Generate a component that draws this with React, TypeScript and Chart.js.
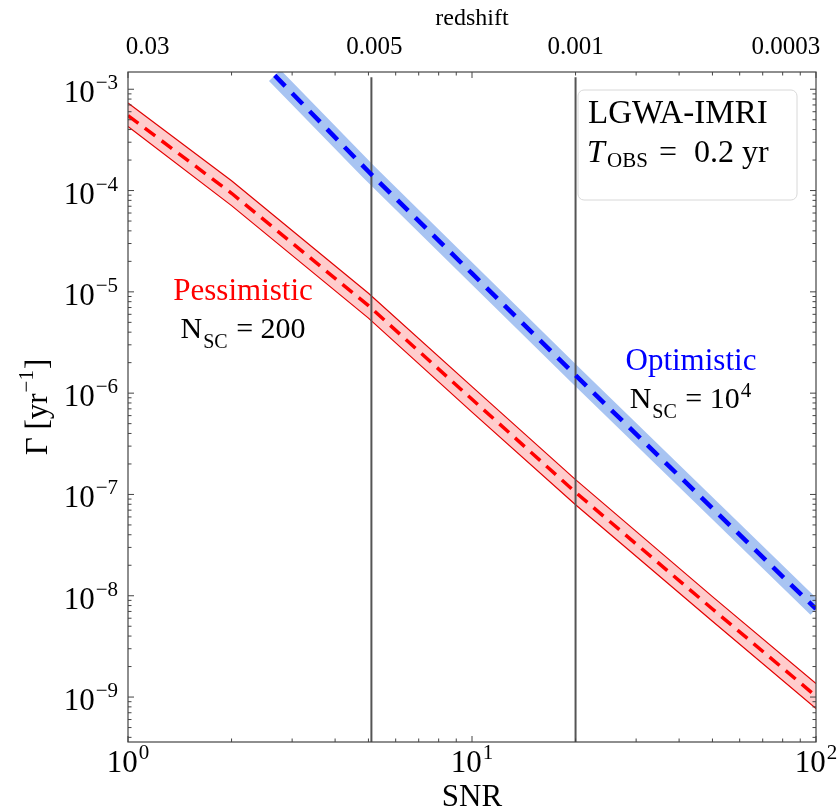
import React, { useEffect, useRef } from 'react';
import { Chart, registerables } from 'chart.js';

Chart.register(...registerables);

// ---------------- data ----------------
const redSNR = [1, 2, 5, 10, 20, 50, 100];
const redCenter = [5.5e-4, 9.4e-5, 7.3e-6, 8.7e-7, 1.05e-7, 7.4e-9, 1.02e-9];
const redUpper = [7.3e-4, 1.25e-4, 9.7e-6, 1.16e-6, 1.4e-7, 9.8e-9, 1.36e-9];
const redLower = [4.3e-4, 7.1e-5, 5.5e-6, 6.5e-7, 7.9e-8, 5.6e-9, 7.7e-10];

const blueSNR = [2.67, 5, 10, 20, 50, 100];
const blueCenter = [1.37e-3, 1.54e-4, 1.52e-5, 1.5e-6, 7.3e-8, 7.4e-9];

const snrThresholds = [5.1, 20];
const thresholdTop = 1.31e-3;

const redshiftLabels = ['0.03', '0.005', '0.001', '0.0003'];
const redshiftSNR = [1.14, 5.2, 20, 81.8];

const xTickExps = [0, 1, 2];
const yTickExps = [-9, -8, -7, -6, -5, -4, -3];

const xMin = 1;
const xMax = 100;
const yMin = 3.6e-10;
const yMax = 1.48e-3;

const SERIF = '"Liberation Serif", "Times New Roman", serif';

const pts = (xs: number[], ys: number[]) => xs.map((x, i) => ({ x, y: ys[i] }));

function drawPow(ctx: CanvasRenderingContext2D, base: string, exp: string, x: number, y: number,
  align: 'center' | 'right', baseSize: number, expSize: number, raise: number) {
  ctx.font = `${baseSize}px ${SERIF}`;
  const wb = ctx.measureText(base).width;
  ctx.font = `${expSize}px ${SERIF}`;
  const we = ctx.measureText(exp).width;
  const total = wb + 1 + we;
  const x0 = align === 'center' ? x - total / 2 : x - total;
  ctx.textAlign = 'left';
  ctx.textBaseline = 'alphabetic';
  ctx.font = `${baseSize}px ${SERIF}`;
  ctx.fillText(base, x0, y);
  ctx.font = `${expSize}px ${SERIF}`;
  ctx.fillText(exp, x0 + wb + 1, y - raise);
}

const overlay = {
  id: 'overlay',
  afterDraw(chart: any) {
    const { ctx, chartArea: a, scales } = chart;
    const xs = scales.x;
    const ys = scales.y;
    ctx.save();

    // frame
    ctx.strokeStyle = '#444';
    ctx.lineWidth = 1.2;
    ctx.strokeRect(a.left, a.top, a.right - a.left, a.bottom - a.top);

    // inward ticks on all sides
    ctx.lineWidth = 1;
    ctx.beginPath();
    for (let e = 0; e <= 2; e++) {
      for (let m = 1; m <= 9; m++) {
        const v = m * Math.pow(10, e);
        if (v > xMax + 1e-9) break;
        const px = xs.getPixelForValue(v);
        const len = m === 1 ? 6 : 3.5;
        ctx.moveTo(px, a.bottom); ctx.lineTo(px, a.bottom - len);
        ctx.moveTo(px, a.top); ctx.lineTo(px, a.top + len);
      }
    }
    for (let e = -10; e <= -3; e++) {
      for (let m = 1; m <= 9; m++) {
        const v = m * Math.pow(10, e);
        if (v < yMin || v > yMax) continue;
        const py = ys.getPixelForValue(v);
        const len = m === 1 ? 6 : 3.5;
        ctx.moveTo(a.left, py); ctx.lineTo(a.left + len, py);
        ctx.moveTo(a.right, py); ctx.lineTo(a.right - len, py);
      }
    }
    ctx.stroke();

    ctx.fillStyle = '#000';
    // y tick labels
    yTickExps.forEach((e) => {
      const py = ys.getPixelForValue(Math.pow(10, e));
      drawPow(ctx, '10', '\u2212' + Math.abs(e), a.left - 10, py + 13, 'right', 31, 21, 13);
    });
    // x tick labels
    xTickExps.forEach((e) => {
      const px = xs.getPixelForValue(Math.pow(10, e));
      drawPow(ctx, '10', String(e), px, a.bottom + 30, 'center', 31, 21, 13);
    });

    // x title
    ctx.font = `31px ${SERIF}`;
    ctx.textAlign = 'center';
    ctx.textBaseline = 'alphabetic';
    ctx.fillText('SNR', (a.left + a.right) / 2, a.bottom + 64);

    // y title (rotated)
    ctx.save();
    ctx.translate(47, (a.top + a.bottom) / 2);
    ctx.rotate(-Math.PI / 2);
    ctx.font = `31px ${SERIF}`;
    const p1 = '\u0393 [yr';
    const w1 = ctx.measureText(p1).width;
    ctx.font = `21px ${SERIF}`;
    const p2 = '\u22121';
    const w2 = ctx.measureText(p2).width;
    ctx.font = `31px ${SERIF}`;
    const p3 = ']';
    const w3 = ctx.measureText(p3).width;
    const tot = w1 + w2 + w3 + 2;
    let cx = -tot / 2;
    ctx.textAlign = 'left';
    ctx.fillText(p1, cx, 0); cx += w1 + 1;
    ctx.font = `21px ${SERIF}`;
    ctx.fillText(p2, cx, -14); cx += w2 + 1;
    ctx.font = `31px ${SERIF}`;
    ctx.fillText(p3, cx, 0);
    ctx.restore();

    // annotations
    const annot = (label: string, color: string, xv: number, yv: number) => {
      ctx.font = `31px ${SERIF}`;
      ctx.fillStyle = color;
      ctx.textAlign = 'center';
      ctx.fillText(label, xs.getPixelForValue(xv), ys.getPixelForValue(yv));
    };
    annot('Pessimistic', '#ff0000', 2.16, 8.3e-6);
    annot('Optimistic', '#0000ff', 43.3, 1.7e-6);

    const nsc = (xv: number, yv: number, rest: string, sup: string | null) => {
      const px = xs.getPixelForValue(xv);
      const py = ys.getPixelForValue(yv);
      ctx.fillStyle = '#000';
      ctx.textAlign = 'left';
      ctx.font = `30px ${SERIF}`;
      const wN = ctx.measureText('N').width;
      ctx.font = `20px ${SERIF}`;
      const wS = ctx.measureText('SC').width;
      ctx.font = `30px ${SERIF}`;
      const wR = ctx.measureText(rest).width;
      ctx.font = `21px ${SERIF}`;
      const wP = sup ? ctx.measureText(sup).width : 0;
      const total = wN + wS + 2 + wR + wP;
      let x0 = px - total / 2;
      ctx.font = `30px ${SERIF}`;
      ctx.fillText('N', x0, py); x0 += wN + 1;
      ctx.font = `20px ${SERIF}`;
      ctx.fillText('SC', x0, py + 10); x0 += wS + 1;
      ctx.font = `30px ${SERIF}`;
      ctx.fillText(rest, x0, py); x0 += wR;
      if (sup) {
        ctx.font = `21px ${SERIF}`;
        ctx.fillText(sup, x0 + 1, py - 11);
      }
    };
    nsc(2.16, 3.5e-6, ' = 200', null);
    nsc(43.0, 7.2e-7, ' = 10', '4');

    // info box (upper right)
    const bx = a.right - 238;
    const by = a.top + 18;
    const bw = 219;
    const bh = 110;
    ctx.beginPath();
    ctx.roundRect(bx, by, bw, bh, 6);
    ctx.fillStyle = 'rgba(255,255,255,0.85)';
    ctx.fill();
    ctx.strokeStyle = '#d8d8d8';
    ctx.lineWidth = 1;
    ctx.stroke();
    ctx.fillStyle = '#000';
    ctx.textAlign = 'left';
    ctx.font = `33px ${SERIF}`;
    ctx.fillText('LGWA-IMRI', bx + 10, by + 33);
    ctx.font = `italic 32px ${SERIF}`;
    ctx.fillText('T', bx + 9, by + 72);
    ctx.font = `21px ${SERIF}`;
    ctx.fillText('OBS', bx + 29, by + 77);
    ctx.font = `32px ${SERIF}`;
    ctx.fillText('=', bx + 81, by + 72);
    ctx.fillText('0.2 yr', bx + 116, by + 72);

    ctx.restore();
  },
};

export default function App() {
  const ref = useRef<HTMLCanvasElement>(null);
  useEffect(() => {
    const canvas = ref.current;
    if (!canvas) return;
    const vline = (x: number) => [{ x, y: yMin }, { x, y: thresholdTop }];
    const chart = new Chart(canvas, {
      type: 'scatter',
      data: {
        datasets: [
          { label: 'thr1', data: vline(snrThresholds[0]), showLine: true, borderColor: '#555', borderWidth: 2, pointRadius: 0, order: 2 },
          { label: 'thr2', data: vline(snrThresholds[1]), showLine: true, borderColor: '#555', borderWidth: 2, pointRadius: 0, order: 2 },
          { label: 'pess', data: pts(redSNR, redCenter), showLine: true, borderColor: '#ff0000', borderWidth: 3.5, borderDash: [13, 8], pointRadius: 0, order: 1 },
          { label: 'opt', data: pts(blueSNR, blueCenter), showLine: true, borderColor: '#0000ff', borderWidth: 4.5, borderDash: [15, 10], pointRadius: 0, order: 1 },
          { label: 'pessUp', data: pts(redSNR, redUpper), showLine: true, borderColor: '#e00000', borderWidth: 1.2, pointRadius: 0, fill: '+1', backgroundColor: 'rgba(255,0,0,0.2)', order: 5 },
          { label: 'pessLo', data: pts(redSNR, redLower), showLine: true, borderColor: '#e00000', borderWidth: 1.2, pointRadius: 0, fill: false, order: 5 },
          { label: 'optBand', data: pts(blueSNR, blueCenter), showLine: true, borderColor: '#a8c4f2', borderWidth: 16, borderCapStyle: 'butt', pointRadius: 0, order: 4 },
        ] as any,
      },
      options: {
        responsive: false,
        animation: false,
        devicePixelRatio: 1,
        layout: { padding: { left: 0, right: 23, top: 0, bottom: 0 } },
        plugins: { legend: { display: false }, tooltip: { enabled: false }, title: { display: false } },
        elements: { line: { tension: 0 } },
        scales: {
          x: {
            type: 'logarithmic', position: 'bottom', min: xMin, max: xMax,
            grid: { display: false, drawTicks: false }, border: { display: false },
            ticks: { display: false },
            afterFit: (s: any) => { s.height = 68; },
          },
          x2: {
            type: 'logarithmic', position: 'top', min: xMin, max: xMax,
            grid: { display: false, drawTicks: false }, border: { display: false },
            ticks: {
              display: true, autoSkip: false, maxRotation: 0, padding: 10, color: '#000',
              font: { family: SERIF, size: 25 },
              callback: (_v: any, i: number) => redshiftLabels[i],
            },
            afterBuildTicks: (s: any) => { s.ticks = redshiftSNR.map((v) => ({ value: v })); },
            title: { display: true, text: 'redshift', color: '#000', font: { family: SERIF, size: 24 }, padding: { top: 4, bottom: 0 } },
            afterFit: (s: any) => { s.height = 72; },
          },
          y: {
            type: 'logarithmic', position: 'left', min: yMin, max: yMax,
            grid: { display: false, drawTicks: false }, border: { display: false },
            ticks: { display: false },
            afterFit: (s: any) => { s.width = 128; },
          },
        },
      } as any,
      plugins: [overlay],
    });
    return () => chart.destroy();
  }, []);
  return (
    <canvas
      ref={ref}
      width={839}
      height={810}
      style={{ position: 'absolute', left: 0, top: 0, width: '839px', height: '810px', background: '#fff' }}
    />
  );
}
